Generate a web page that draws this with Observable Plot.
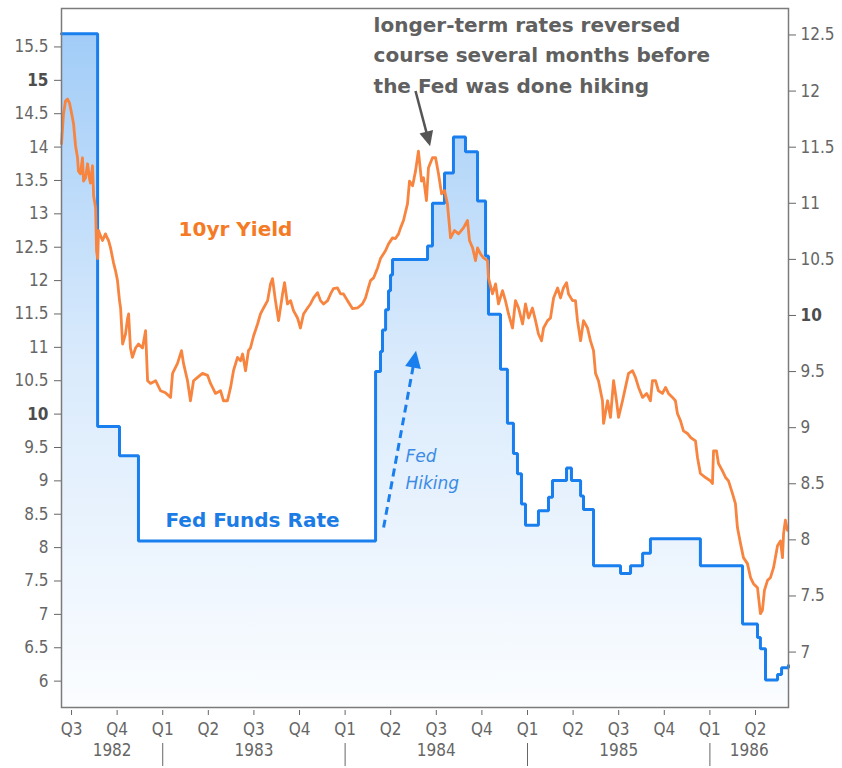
<!DOCTYPE html>
<html>
<head>
<meta charset="utf-8">
<script src="https://cdn.jsdelivr.net/npm/d3@7"></script>
<script src="https://cdn.jsdelivr.net/npm/@observablehq/plot@0.6"></script>
<style>
  body { margin: 0; background: #fff; }
  #chart svg { display: block; }
</style>
</head>
<body>
<div id="chart"></div>
<script>
// ---------- data (time as decimal years) ----------
const yieldDates = [
  1982.445,1982.456,1982.467,1982.478,1982.489,1982.500,1982.511,1982.522,1982.533,1982.538,
  1982.549,1982.560,1982.566,1982.577,1982.588,1982.599,1982.604,1982.615,1982.621,1982.632,
  1982.637,1982.643,1982.648,1982.659,1982.670,1982.686,1982.697,1982.703,1982.714,1982.730,
  1982.741,1982.752,1982.763,1982.769,1982.780,1982.796,1982.807,1982.813,1982.823,1982.834,
  1982.851,1982.867,1982.889,1982.906,1982.917,1982.933,1982.961,1982.988,1983.015,1983.043,
  1983.054,1983.081,1983.103,1983.114,1983.136,1983.152,1983.169,1983.191,1983.218,1983.246,
  1983.262,1983.273,1983.289,1983.317,1983.333,1983.355,1983.372,1983.388,1983.410,1983.427,
  1983.438,1983.454,1983.470,1983.481,1983.498,1983.520,1983.536,1983.553,1983.575,1983.591,
  1983.602,1983.618,1983.635,1983.657,1983.668,1983.684,1983.701,1983.717,1983.739,1983.755,
  1983.772,1983.794,1983.810,1983.827,1983.849,1983.865,1983.882,1983.904,1983.920,1983.936,
  1983.958,1983.975,1983.991,1984.013,1984.041,1984.068,1984.095,1984.112,1984.123,1984.139,
  1984.156,1984.178,1984.194,1984.222,1984.238,1984.260,1984.276,1984.293,1984.304,1984.320,
  1984.342,1984.353,1984.370,1984.386,1984.402,1984.419,1984.430,1984.446,1984.457,1984.479,
  1984.496,1984.512,1984.529,1984.545,1984.561,1984.578,1984.600,1984.622,1984.649,1984.671,
  1984.682,1984.699,1984.715,1984.726,1984.742,1984.759,1984.781,1984.786,1984.808,1984.825,
  1984.841,1984.863,1984.879,1984.896,1984.918,1984.934,1984.951,1984.973,1984.989,1985.006,
  1985.027,1985.044,1985.060,1985.077,1985.088,1985.110,1985.126,1985.143,1985.165,1985.181,
  1985.197,1985.214,1985.225,1985.247,1985.263,1985.274,1985.291,1985.307,1985.329,1985.345,
  1985.362,1985.373,1985.389,1985.411,1985.417,1985.439,1985.455,1985.472,1985.488,1985.499,
  1985.521,1985.537,1985.554,1985.576,1985.592,1985.609,1985.631,1985.653,1985.674,1985.685,
  1985.702,1985.718,1985.740,1985.757,1985.773,1985.795,1985.811,1985.822,1985.839,1985.855,
  1985.877,1985.894,1985.921,1985.932,1985.948,1985.976,1986.003,1986.014,1986.020,1986.036,
  1986.047,1986.069,1986.086,1986.102,1986.124,1986.140,1986.151,1986.168,1986.184,1986.206,
  1986.223,1986.239,1986.261,1986.267,1986.277,1986.288,1986.299,1986.316,1986.332,1986.349,
  1986.371,1986.387,1986.398,1986.404,1986.414,1986.425
];
const yieldValues = [
  14.05,14.50,14.69,14.72,14.66,14.51,14.35,14.02,13.84,13.64,
  13.60,13.84,13.49,13.54,13.75,13.52,13.46,13.72,13.27,13.09,
  12.45,12.33,12.75,12.67,12.60,12.70,12.63,12.60,12.49,12.27,
  12.15,12.00,11.70,11.59,11.05,11.20,11.43,11.50,10.99,10.85,
  10.99,11.05,10.99,11.25,10.50,10.46,10.50,10.35,10.32,10.25,
  10.61,10.76,10.95,10.76,10.50,10.20,10.50,10.55,10.61,10.58,
  10.46,10.40,10.31,10.35,10.20,10.20,10.40,10.65,10.85,10.80,
  10.90,10.65,10.95,10.99,11.17,11.35,11.50,11.59,11.70,11.95,
  12.03,11.70,11.40,11.80,11.97,11.65,11.70,11.55,11.44,11.29,
  11.50,11.59,11.65,11.74,11.82,11.70,11.65,11.70,11.80,11.88,
  11.89,11.80,11.80,11.70,11.58,11.59,11.65,11.74,11.85,12.00,
  12.04,12.19,12.33,12.45,12.55,12.64,12.63,12.70,12.79,12.90,
  13.15,13.49,13.42,13.64,13.94,13.49,13.54,13.20,13.69,13.84,
  13.84,13.60,13.30,13.35,13.15,12.64,12.75,12.70,12.79,12.90,
  12.60,12.49,12.30,12.49,12.40,12.34,12.30,12.04,11.80,11.95,
  11.65,11.85,11.70,11.50,11.29,11.70,11.59,11.35,11.65,11.44,
  11.59,11.40,11.20,11.10,11.29,11.40,11.44,11.74,11.89,11.74,
  11.89,11.97,11.80,11.70,11.70,11.40,11.10,11.40,11.29,11.10,
  10.95,10.61,10.50,10.20,9.86,10.20,9.95,10.50,10.20,9.95,
  10.20,10.40,10.61,10.65,10.55,10.40,10.25,10.31,10.20,10.50,
  10.50,10.35,10.31,10.40,10.31,10.25,10.20,10.01,9.90,9.75,
  9.71,9.65,9.60,9.35,9.11,9.05,9.00,8.96,9.45,9.45,
  9.26,9.15,9.05,9.00,8.81,8.66,8.30,8.06,7.85,7.76,
  7.55,7.46,7.40,7.25,7.01,7.06,7.36,7.51,7.55,7.70,
  8.03,8.10,7.85,8.21,8.41,8.26
];
const ffDates = [
  1982.445,1982.643,1982.763,1982.867,1984.167,1984.194,1984.205,1984.222,1984.238,1984.249,
  1984.260,1984.452,1984.479,1984.545,1984.594,1984.660,1984.726,1984.770,1984.786,1984.852,
  1984.890,1984.923,1984.945,1984.967,1984.989,1985.060,1985.115,1985.137,1985.214,1985.241,
  1985.291,1985.307,1985.362,1985.510,1985.565,1985.631,1985.674,1985.948,1986.179,1986.261,
  1986.277,1986.305,1986.371,1986.393,1986.431
];
const ffValues = [
  12.51,9.01,8.75,7.99,9.50,9.68,9.87,10.05,10.22,10.36,
  10.50,10.62,11.00,11.27,11.59,11.46,11.02,10.53,10.01,9.52,
  9.04,8.77,8.59,8.32,8.13,8.26,8.38,8.53,8.64,8.53,
  8.39,8.27,7.77,7.70,7.77,7.88,8.01,7.77,7.25,7.13,
  7.03,6.75,6.80,6.86,6.88
];
const leftTicks = [6,6.5,7,7.5,8,8.5,9,9.5,10,10.5,11,11.5,12,12.5,13,13.5,14,14.5,15,15.5];
const rightTicks = [7,7.5,8,8.5,9,9.5,10,10.5,11,11.5,12,12.5];
const quarterTicks = [1982.5,1982.75,1983,1983.25,1983.5,1983.75,1984,1984.25,1984.5,1984.75,1985,1985.25,1985.5,1985.75,1986,1986.25];
const yearTicks = [1983,1984,1985,1986];
const yearLabels = ["1982","1983","1984","1985","1986"];
const xDomain = [1982.445, 1986.431];
const yLeftDomain = [5.605, 16.076];   // 10yr yield (left axis)
const yRightDomain = [6.506, 12.736];  // Fed funds (right axis)

const noteText = [{t: 1984.156, v: 15.417, text: "longer-term rates reversed\ncourse several months before\nthe Fed was done hiking"}];
const yieldLabel = [{t: 1983.087, v: 12.76, text: "10yr Yield"}];
const ffLabel = [{t: 1983.015, v: 8.40, text: "Fed Funds Rate"}];
const hikeLabel = [{t: 1984.331, v: 9.206, text: "Fed\nHiking"}];
const noteArrow = [{t1: 1984.386, v1: 14.84, t2: 1984.459, v2: 14.086}];
const hikeArrow = [{t1: 1984.211, v1: 8.30, t2: 1984.383, v2: 10.86}];

// ---------- helpers ----------
const k = (yLeftDomain[1] - yLeftDomain[0]) / (yRightDomain[1] - yRightDomain[0]);
const toLeft = r => yLeftDomain[0] + (r - yRightDomain[0]) * k;
const toRight = l => yRightDomain[0] + (l - yLeftDomain[0]) / k;

const yieldData = yieldDates.map((t, i) => ({t, v: yieldValues[i]}));
const ffData = ffDates.map((t, i) => ({t, v: ffValues[i]}));
const yearPos = yearLabels.map(y => (Math.max(+y, xDomain[0]) + Math.min(+y + 1, xDomain[1])) / 2);

const BLUE = "#1a7fee";
const ORANGE = "#f7843f";
const GRAY_ARROW = "#555555";
const TXT = "#666";
const SANS = "'DejaVu Sans', sans-serif";

const gradientDefs = (index, scales, values, dim) => {
  const defs = d3.create("svg:defs");
  const g = defs.append("linearGradient")
    .attr("id", "ffFill")
    .attr("gradientUnits", "userSpaceOnUse")
    .attr("x1", 0).attr("x2", 0)
    .attr("y1", dim.marginTop).attr("y2", dim.height - dim.marginBottom);
  g.append("stop").attr("offset", 0).attr("stop-color", "#9dcaf7");
  g.append("stop").attr("offset", 0.5).attr("stop-color", "#d9eafc");
  g.append("stop").attr("offset", 1).attr("stop-color", "#fbfdff");
  return defs.node();
};

const chart = Plot.plot({
  width: 842,
  height: 768,
  marginTop: 8,
  marginRight: 54,
  marginBottom: 61,
  marginLeft: 61,
  style: {
    fontFamily: "'DejaVu Sans Condensed', 'DejaVu Sans', sans-serif",
    fontSize: "17px",
    color: TXT,
    background: "#fff",
    overflow: "visible"
  },
  x: {type: "linear", domain: xDomain, label: null},
  y: {domain: yLeftDomain, label: null},
  marks: [
    gradientDefs,
    Plot.areaY(ffData, {x: "t", y1: yLeftDomain[0], y2: d => toLeft(d.v), curve: "step-after", fill: "url(#ffFill)"}),
    Plot.line(ffData, {x: "t", y: d => toLeft(d.v), curve: "step-after", stroke: BLUE, strokeWidth: 3, strokeLinejoin: "miter"}),
    Plot.line(yieldData, {x: "t", y: "v", stroke: ORANGE, strokeWidth: 2.8}),
    Plot.frame({stroke: "#7b7b7b", strokeWidth: 1.5}),
    Plot.axisY(leftTicks, {anchor: "left", tickSize: 7, tickPadding: 6, label: null, tickFormat: d => String(d)}),
    Plot.axisY(rightTicks.map(toLeft), {anchor: "right", tickSize: 7, tickPadding: 5, label: null,
      tickFormat: v => String(Math.round(toRight(v) * 2) / 2)}),
    Plot.axisX(quarterTicks, {anchor: "bottom", tickSize: 5, dy: 3, tickPadding: 7, label: null,
      tickFormat: t => "Q" + (Math.round((((t % 1) + 1) % 1) * 4) + 1)}),
    Plot.axisX(yearTicks, {anchor: "bottom", tickSize: 23, dy: 36, label: null, tickFormat: () => ""}),
    Plot.text(yearLabels, {x: (d, i) => yearPos[i], frameAnchor: "bottom", dy: 48, text: d => d, fill: TXT, fontSize: 17}),
    // annotations
    Plot.link(hikeArrow, {x1: "t1", y1: "v1", x2: "t2", y2: "v2", stroke: BLUE, strokeWidth: 3, strokeDasharray: "8,5", markerEnd: "arrow"}),
    Plot.link(noteArrow, {x1: "t1", y1: "v1", x2: "t2", y2: "v2", stroke: GRAY_ARROW, strokeWidth: 2.5, markerEnd: "arrow"}),
    Plot.text(noteText, {x: "t", y: "v", text: "text", textAnchor: "start", lineHeight: 1.53, fontFamily: SANS, fontWeight: "bold", fontSize: 20, fill: "#606060"}),
    Plot.text(yieldLabel, {x: "t", y: "v", text: "text", textAnchor: "start", fontFamily: SANS, fontWeight: "bold", fontSize: 20, fill: "#f47a26"}),
    Plot.text(ffLabel, {x: "t", y: "v", text: "text", textAnchor: "start", fontFamily: SANS, fontWeight: "bold", fontSize: 20, fill: "#1c7ce6"}),
    Plot.text(hikeLabel, {x: "t", y: "v", text: "text", textAnchor: "start", lineHeight: 1.6, fontFamily: SANS, fontStyle: "italic", fontSize: 17, fill: "#3b8be6"})
  ]
});

// filled arrowheads in user-space pixels
d3.select(chart).selectAll("marker").each(function () {
  const m = d3.select(this);
  const c = m.attr("stroke");
  m.attr("fill", c).attr("stroke", "none")
    .attr("markerUnits", "userSpaceOnUse")
    .attr("viewBox", "-16 -10 24 20")
    .attr("markerWidth", 24).attr("markerHeight", 20)
    .attr("refX", 0).attr("refY", 0)
    .attr("overflow", "visible");
  const isBlue = String(c).toLowerCase() === BLUE;
  m.select("path").attr("d", isBlue ? "M-11,-8L6,0L-11,8Z" : "M-10,-7L5,0L-10,7Z");
});
// bold "15" and "10" tick labels
d3.select(chart).selectAll("text").each(function () {
  const t = this.textContent;
  if (t === "15" || t === "10") d3.select(this).attr("font-weight", "bold").attr("fill", "#4d4d4d");
});

document.getElementById("chart").appendChild(chart);
</script>
</body>
</html>
